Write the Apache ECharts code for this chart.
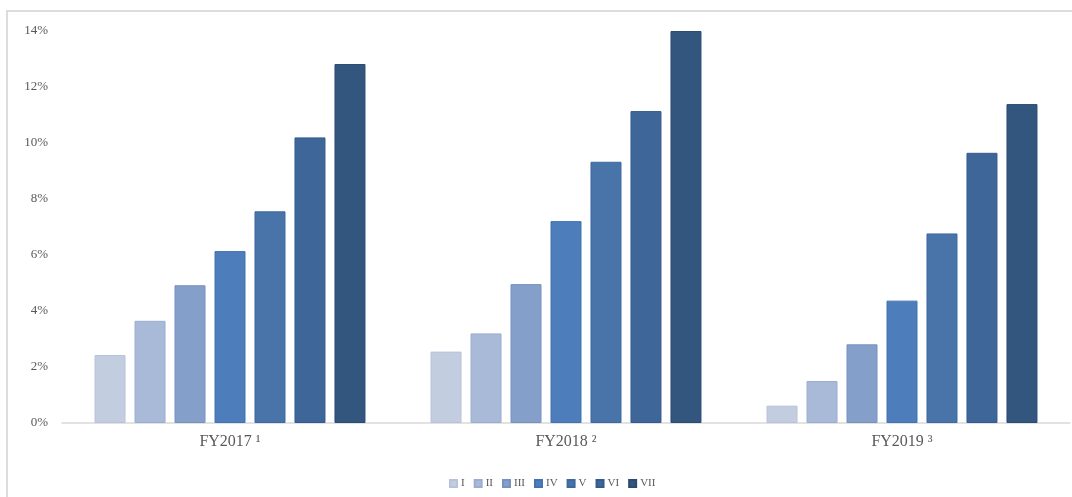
<!DOCTYPE html>
<html>
<head>
<meta charset="utf-8">
<script src="https://cdn.jsdelivr.net/npm/echarts@6/dist/echarts.min.js"></script>
<style>
html,body{margin:0;padding:0;background:#fff;}
#chart{width:1072px;height:497px;}
</style>
</head>
<body>
<div id="chart"></div>
<script>
var categories = ['FY2017 \u00B9', 'FY2018 \u00B2', 'FY2019 \u00B3'];
var seriesNames = ['I', 'II', 'III', 'IV', 'V', 'VI', 'VII'];
var sI   = [2.43, 2.55, 0.62];
var sII  = [3.65, 3.20, 1.50];
var sIII = [4.92, 4.96, 2.81];
var sIV  = [6.14, 7.21, 4.37];
var sV   = [7.56, 9.33, 6.77];
var sVI  = [10.20, 11.14, 9.65];
var sVII = [12.82, 14.00, 11.39];
var yTicks = [0, 2, 4, 6, 8, 10, 12, 14];

var values = [sI, sII, sIII, sIV, sV, sVI, sVII];
var colors = ['#c3cde0', '#a9b9d8', '#849fca', '#4d7ebb', '#4874aa', '#3e6699', '#33567f'];
var borders = ['#b8c3da', '#9cadd0', '#7792c0', '#4373b0', '#3f68a0', '#355b8e', '#2b4b72'];

var series = seriesNames.map(function (n, i) {
  return {
    name: n,
    type: 'bar',
    data: values[i],
    barWidth: 31,
    barGap: '29%',
    itemStyle: { color: colors[i], borderColor: borders[i], borderWidth: 1 }
  };
});

var chart = echarts.init(document.getElementById('chart'));
chart.setOption({
  animation: false,
  backgroundColor: '#fff',
  graphic: [{
    type: 'rect',
    shape: { x: 7, y: 11, width: 1100, height: 520 },
    style: { fill: 'none', stroke: '#dcdcdc', lineWidth: 2 },
    silent: true
  }],
  color: colors,
  grid: { left: 62, right: 2, top: 31, bottom: 74, containLabel: false },
  legend: {
    data: seriesNames,
    left: 444,
    top: 473,
    itemWidth: 7,
    itemHeight: 7,
    itemGap: 9,
    icon: 'rect',
    textStyle: { fontFamily: 'Liberation Serif', fontSize: 11, color: '#595959', padding: [0, 0, 0, -1] }
  },
  xAxis: {
    type: 'category',
    data: categories,
    axisLine: { lineStyle: { color: '#d9d9d9', width: 1.5 } },
    axisTick: { show: false },
    axisLabel: { fontFamily: 'Liberation Serif', fontSize: 16, color: '#595959', margin: 11 }
  },
  yAxis: {
    type: 'value',
    min: yTicks[0],
    max: yTicks[yTicks.length - 1],
    interval: 2,
    axisLine: { show: false },
    axisTick: { show: false },
    splitLine: { show: false },
    axisLabel: {
      fontFamily: 'Liberation Serif', fontSize: 13, color: '#595959', margin: 14,
      formatter: function (v) { return v + '%'; }
    }
  },
  series: series
});
</script>
</body>
</html>
